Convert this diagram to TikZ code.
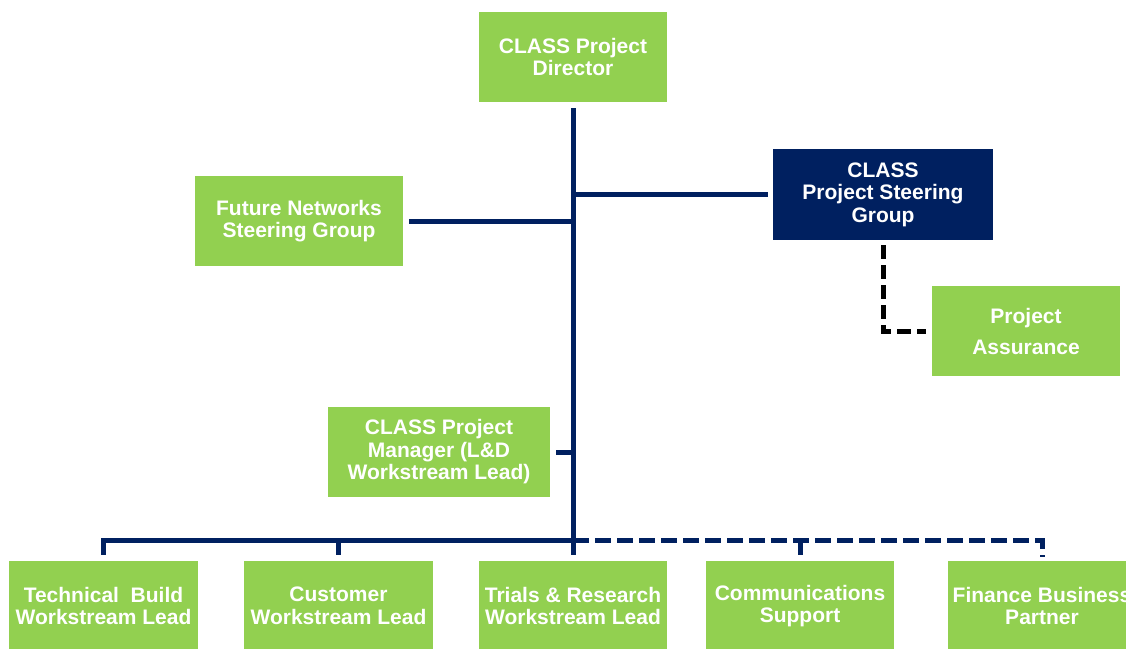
\documentclass[tikz,border=0pt]{standalone}
\usepackage{fontspec}
\setmainfont{Liberation Sans}
\definecolor{boxgreen}{HTML}{92D050}
\definecolor{navy}{HTML}{002060}
\begin{document}
\begin{tikzpicture}[x=1pt,y=-1pt,
  gbox/.style={rectangle, fill=boxgreen, inner sep=0pt, text=white, align=center,
    minimum width=188, minimum height=90,
    font=\bfseries\fontsize{21}{22.5}\selectfont},
  nbox/.style={gbox, fill=navy},
  link/.style={draw=navy, line width=5pt, line join=miter},
  dotlink/.style={link, dash pattern=on 16pt off 6pt},
  adv/.style={draw=black, line width=5pt, line join=miter, dash pattern=on 14pt off 6pt}]
\useasboundingbox (0,0) rectangle (1126,648);

% top of the hierarchy
\node[gbox] (dir) at (573,57) {CLASS Project\\Director};
\node[gbox, minimum width=208] (fns) at (299,221) {Future Networks\\Steering Group};
\node[nbox, minimum width=220, minimum height=91] (psg) at (883,194.5) {CLASS\\Project Steering\\Group};
\node[gbox, font=\bfseries\fontsize{21}{31}\selectfont] (pa) at (1026,331) {Project\\Assurance};
\node[gbox, minimum width=222] (mgr) at (439,452) {CLASS Project\\Manager (L\&D\\Workstream Lead)};

% workstream row
\node[gbox, minimum width=189] (tb) at (103.5,606) {Technical\ \ Build\\Workstream Lead};
\node[gbox, minimum width=189] (cust) at (338.5,606) {Customer\\Workstream Lead};
\node[gbox] (trl) at (573,606) {Trials \& Research\\Workstream Lead};
\node[gbox] (comm) at (800,606) {Communications\\Support};
\node[gbox] (fin) at (1042,606) {Finance Business\\Partner};

\coordinate (bus) at (573,540);

% reporting lines
\draw[link, shorten <=6pt, shorten >=6pt] (dir.south) -- (trl.north);
\draw[link, shorten <=6pt] (fns.east) -- (fns.east -| dir.south);
\draw[link, shorten >=5pt] (psg.west -| dir.south) -- (psg.west);
\draw[link, shorten <=6pt] (mgr.east) -- (mgr.east -| dir.south);
\draw[adv, shorten <=5pt, shorten >=6pt] (psg.south) |- (pa.west);

% workstream bus
\draw[link, shorten <=6pt] (tb.north) |- (bus);
\draw[link, shorten <=6pt] (cust.north) -- (cust.north |- bus);
\draw[dotlink, shorten >=4pt] (bus) -| (fin.north);
\draw[link, shorten <=6pt] (comm.north) -- (comm.north |- bus);
\end{tikzpicture}
\end{document}
